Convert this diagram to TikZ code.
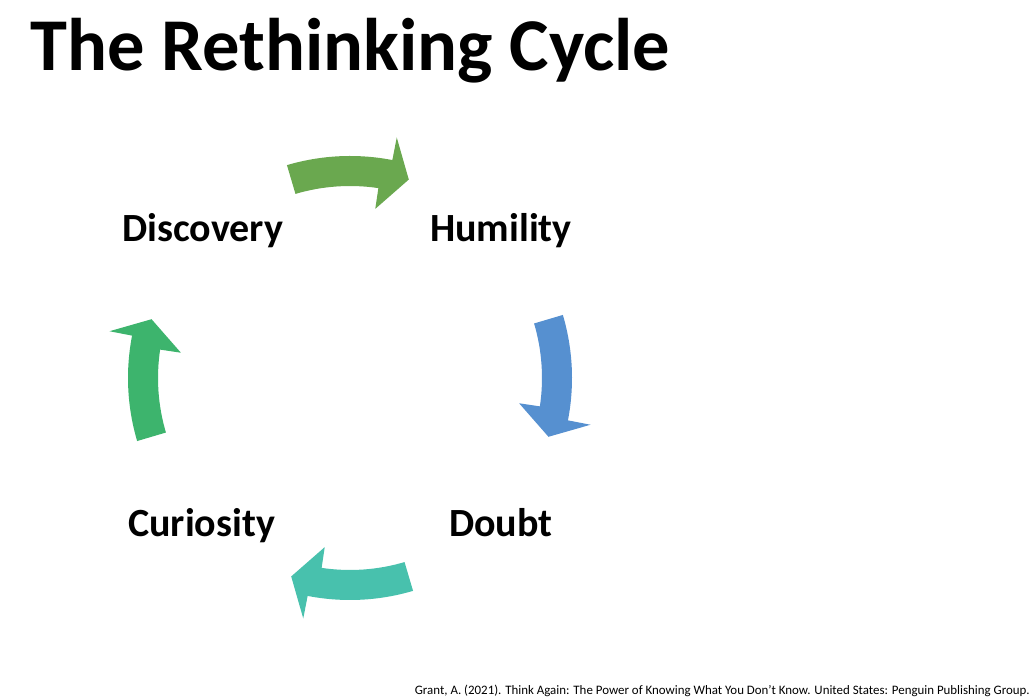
\documentclass[tikz,border=0pt]{standalone}
\usepackage{fontspec}
\setmainfont{Carlito}
\usetikzlibrary{calc}
\definecolor{cgreenA}{HTML}{6AA84F}
\definecolor{cblue}{HTML}{5690D0}
\definecolor{cteal}{HTML}{48C1AD}
\definecolor{cgreenB}{HTML}{3DB46D}
\tikzset{
  label/.style={inner sep=0pt, anchor=base west, font=\fontsize{40}{48}\selectfont\bfseries},
}
% curved block arrow around centre (cc), clockwise, centre angle #1
\newcommand{\cyclearrow}[2]{%
  \pgfmathsetmacro{\aone}{#1+16.5}%
  \pgfmathsetmacro{\aho}{#1-11}%
  \pgfmathsetmacro{\ahi}{#1-8.5}%
  \pgfmathsetmacro{\at}{#1-16.5}%
  \fill[#2] ($(cc)+(\aone:222)$) arc[start angle=\aone, end angle=\aho, radius=222]
    -- ($(cc)+(\aho:245)$) -- ($(cc)+(\at:207)$) -- ($(cc)+(\ahi:171)$)
    -- ($(cc)+(\ahi:192)$) arc[start angle=\ahi, end angle=\aone, radius=192] -- cycle;
}
\begin{document}
\begin{tikzpicture}[x=1pt,y=1pt]
\useasboundingbox (0,0) rectangle (1035,700);
\fill[white] (0,0) rectangle (1035,700);
\coordinate (cc) at (350,322);
\node[inner sep=0pt, anchor=base west, font=\fontsize{74.5}{80}\selectfont\bfseries] (title) at (30,629) {The Rethinking Cycle};
\node[label] (discovery) at (122,458) {Discovery};
\node[label] (humility) at (430,458) {Humility};
\node[label] (doubt) at (449,163) {Doubt};
\node[label] (curiosity) at (128,163) {Curiosity};
\cyclearrow{90}{cgreenA}
\cyclearrow{0}{cblue}
\cyclearrow{-90}{cteal}
\cyclearrow{180}{cgreenB}
\node[inner sep=0pt, anchor=base east, font=\fontsize{12.9}{14}\selectfont] (cite) at (1030,5) {Grant, A. (2021). Think Again: The Power of Knowing What You Don't Know. United States: Penguin Publishing Group.};
\end{tikzpicture}
\end{document}
